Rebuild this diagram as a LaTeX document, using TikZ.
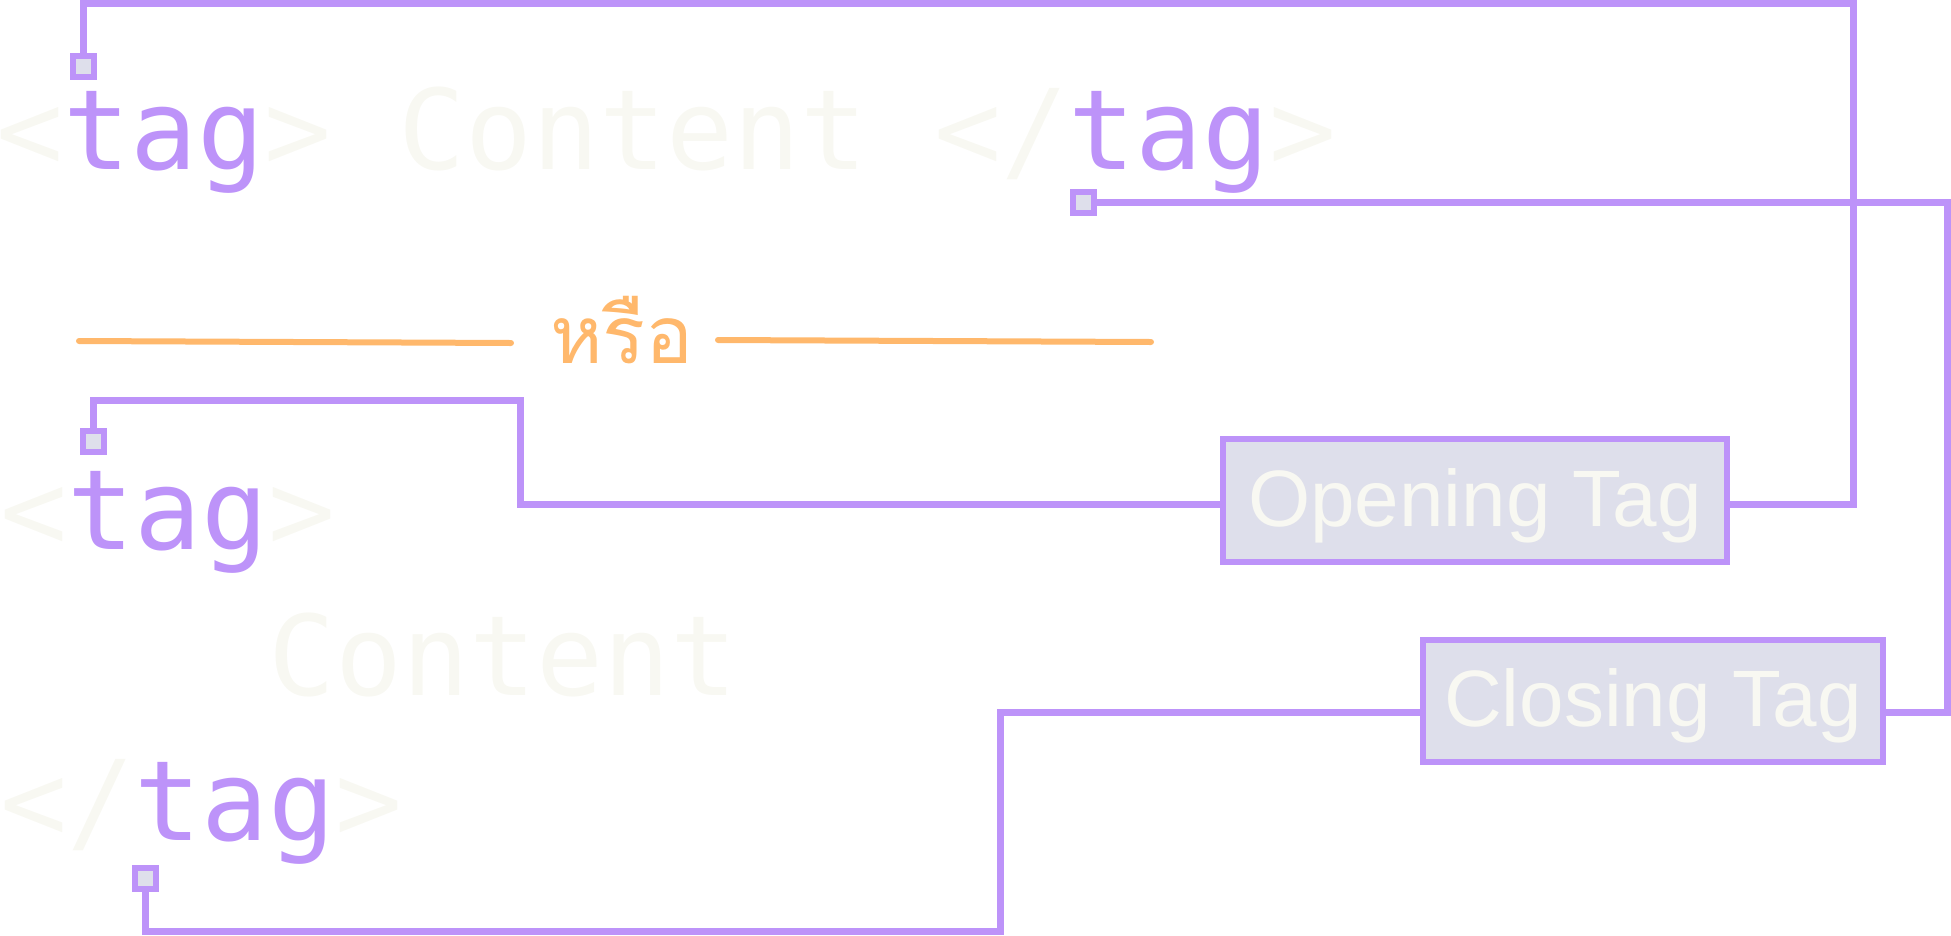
\documentclass[tikz,border=0pt]{standalone}
\usepackage{fontspec}
\setmainfont{Liberation Sans}
\newfontfamily\monofont{DejaVu Sans Mono}
\newfontfamily\thaifont[Script=Thai]{Loma}
\definecolor{purp}{HTML}{BD93F9}
\definecolor{lite}{HTML}{F8F8F2}
\definecolor{orng}{HTML}{FFB86C}
\definecolor{boxfill}{HTML}{DEDFEB}
\begin{document}
\begin{tikzpicture}[x=1pt,y=-1pt,
  codetext/.style={anchor=base west, inner sep=0pt, font=\monofont\fontsize{111.3}{130}\selectfont, text=lite},
  sq/.style={draw=purp, fill=boxfill, line width=6pt, minimum size=21pt, inner sep=0pt},
  wire/.style={draw=purp, line width=7pt},
  tagbox/.style={draw=purp, fill=boxfill, line width=6pt, inner sep=0pt, font=\fontsize{80}{96}\selectfont, text=lite, text height=57pt, text depth=6pt},
  orline/.style={draw=orng, line width=6pt, line cap=round}]
\useasboundingbox (0,0) rectangle (1951,935);

% code lines
\node[codetext] (l1) at (-4,169) {<\textcolor{purp}{tag}> Content </\textcolor{purp}{tag}>};
\node[codetext] (l2) at (0,549) {<\textcolor{purp}{tag}>};
\node[codetext] (l3) at (0,695) {\phantom{abcd}Content};
\node[codetext] (l4) at (0,840) {</\textcolor{purp}{tag}>};

% or separator
\node[anchor=base west, inner sep=0pt, text=orng, font=\thaifont\fontsize{80}{96}\selectfont] (orword) at (550,363) {หรือ};
\coordinate (o1) at (79,341);
\coordinate (o2) at (511,343);
\coordinate (o3) at (718,340);
\coordinate (o4) at (1151,342);
\draw[orline] (o1) -- (o2);
\draw[orline] (o3) -- (o4);

% label boxes
\node[tagbox, minimum width=504pt, minimum height=123pt] (open) at (1475,500.5) {Opening Tag};
\node[tagbox, minimum width=460pt, minimum height=122pt] (close) at (1653,701) {Closing Tag};

% markers
\node[sq] (s1) at (83,66.5) {};
\node[sq] (s2) at (1083,202) {};
\node[sq] (s3) at (93,441.5) {};
\node[sq] (s4) at (145,878.5) {};

% connectors
\coordinate (k1) at (1853,3.5);
\coordinate (k2) at (1947,202);
\coordinate (k3) at (520,400);
\coordinate (k4) at (1000,931);
\draw[wire] (s1.north) |- (k1) |- ([yshift=-3.5pt]open.east);
\draw[wire] (s2.east) -- (k2) |- ([yshift=-11pt]close.east);
\draw[wire] (s3.north) |- (k3) |- ([yshift=-3.5pt]open.west);
\draw[wire] (s4.south) |- (k4) |- ([yshift=-11pt]close.west);
\end{tikzpicture}
\end{document}
